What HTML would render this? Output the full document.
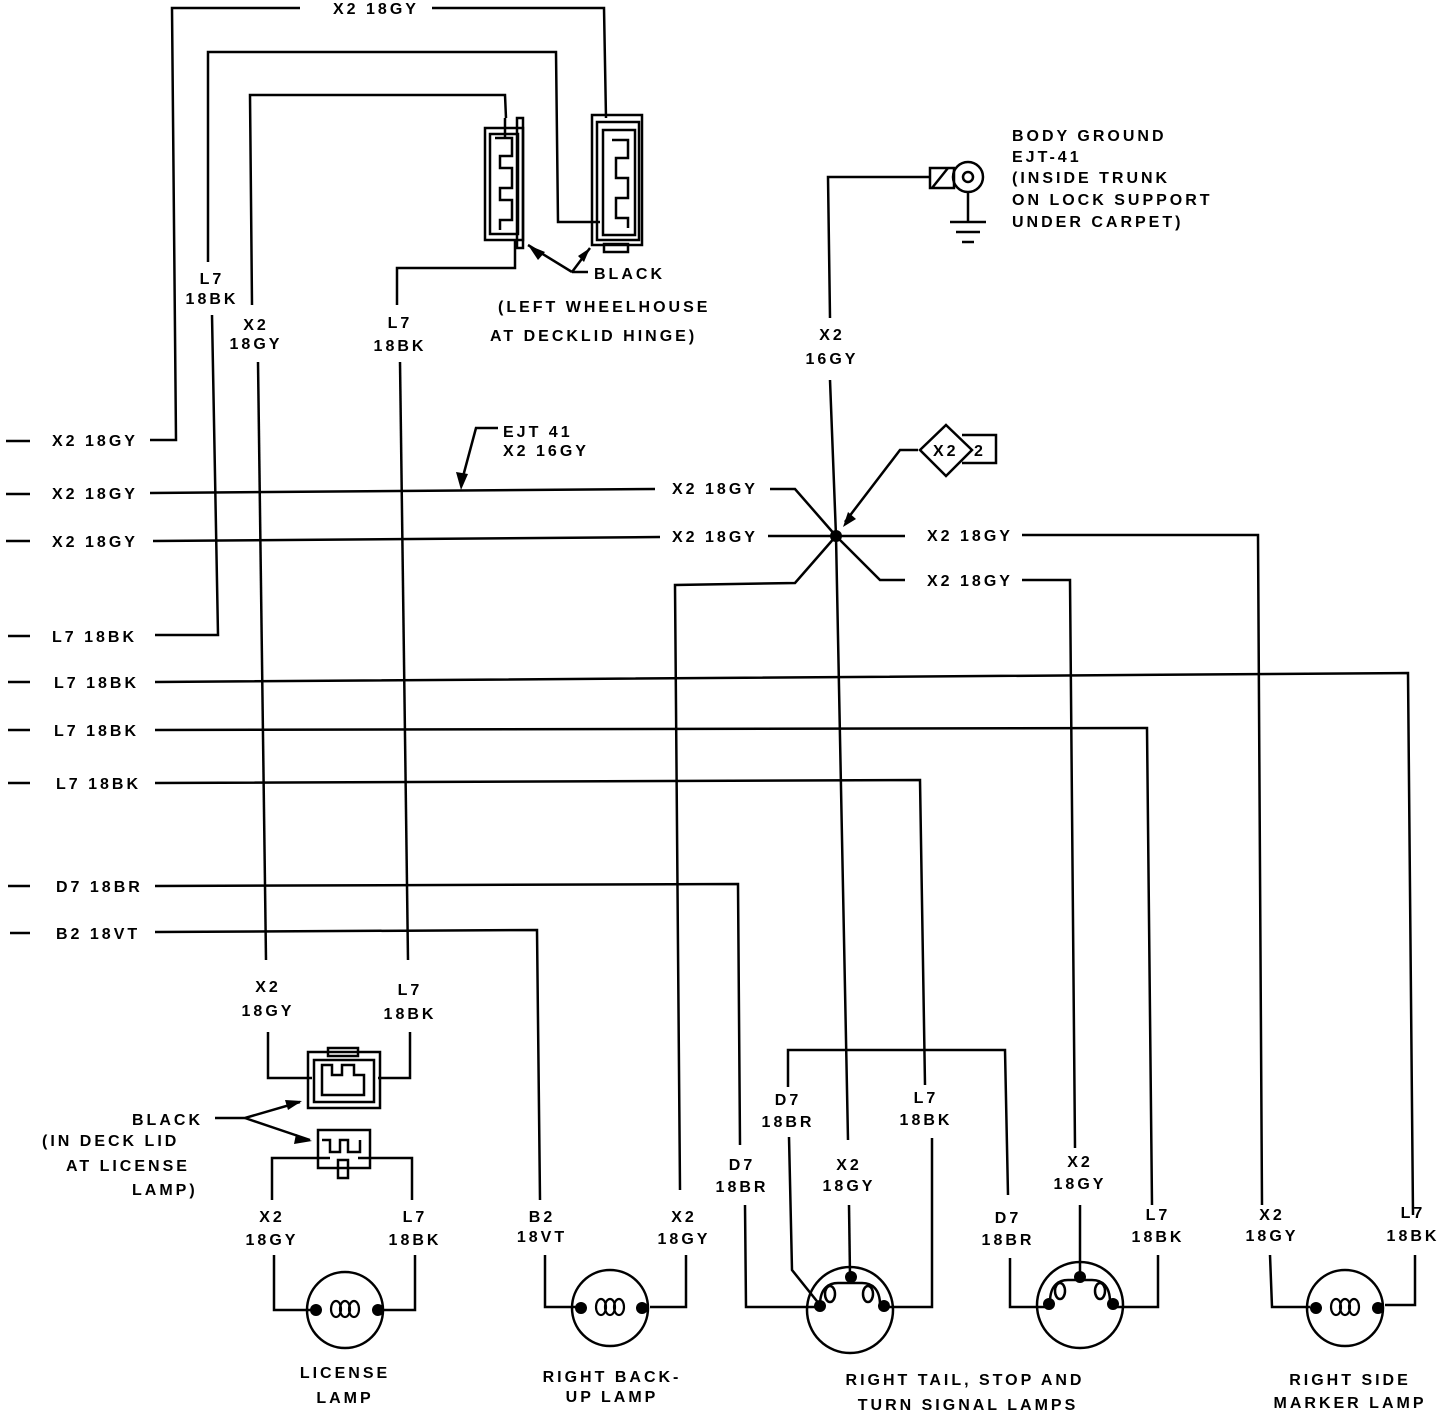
<!DOCTYPE html>
<html><head><meta charset="utf-8"><style>
html,body{margin:0;padding:0;background:#fff;}
svg{display:block}
text{font-family:"Liberation Sans",sans-serif;font-weight:bold;font-size:16px;letter-spacing:3px;fill:#000}
.m{text-anchor:middle}
</style></head><body>
<svg width="1456" height="1414" viewBox="0 0 1456 1414" xmlns="http://www.w3.org/2000/svg">
<g fill="none" stroke="#000" stroke-width="2.5">
<polyline points="150,440 176,440 172,8 300,8"/>
<polyline points="432,8 604,8 606,118"/>
<polyline points="208,262 208,52 556,52 558,222 600,222"/>
<polyline points="212,315 218,635 155,635"/>
<polyline points="252,305 250,95 505,95 506,118"/>
<polyline points="258,362 266,960"/>
<polyline points="268,1032 268,1078 312,1078"/>
<polyline points="515,240 515,268 397,268 397,305"/>
<polyline points="400,362 408,960"/>
<polyline points="410,1032 410,1078 378,1078"/>
<line x1="6" y1="441" x2="30" y2="441"/><line x1="6" y1="494" x2="30" y2="494"/><line x1="6" y1="541" x2="30" y2="541"/>
<line x1="8" y1="636" x2="30" y2="636"/><line x1="8" y1="682" x2="30" y2="682"/><line x1="8" y1="730" x2="30" y2="730"/>
<line x1="8" y1="783" x2="30" y2="783"/><line x1="8" y1="886" x2="30" y2="886"/><line x1="10" y1="933" x2="30" y2="933"/>
<line x1="150" y1="493" x2="655" y2="489"/>
<polyline points="770,489 795,489 836,536"/>
<line x1="153" y1="541" x2="660" y2="537"/>
<line x1="768" y1="536" x2="836" y2="536"/>
<polyline points="155,682 1408,673 1413,1215"/>
<polyline points="155,730 1147,728 1152,1205"/>
<polyline points="155,783 920,780 925,1085"/>
<polyline points="155,886 738,884 740,1145"/>
<polyline points="155,932 537,930 540,1200"/>
<polyline points="930,177 828,177 830,318"/>
<polyline points="830,380 836,536 848,1140"/>
<polyline points="849,1205 850,1275"/>
<line x1="836" y1="536" x2="905" y2="536"/>
<polyline points="1022,535 1258,535 1262,1205"/>
<polyline points="1270,1255 1272,1307 1310,1307"/>
<polyline points="836,536 880,580 905,580"/>
<polyline points="1022,580 1070,580 1075,1148"/>
<polyline points="1080,1205 1080,1275"/>
<polyline points="836,536 795,583 675,585 680,1190"/>
<polyline points="686,1255 686,1307 650,1307"/>
<polyline points="918,450 900,450 845,522"/>
<polygon points="946,425 972,450 946,476 920,450"/>
<polyline points="962,435 996,435 996,463 962,463"/>
<polyline points="498,428 476,428 461,484"/>
<polyline points="788,1087 788,1050 1005,1050 1008,1195"/>
<polyline points="789,1137 792,1270 820,1305"/>
<polyline points="932,1138 932,1307 885,1307"/>
<polyline points="745,1205 746,1307 815,1307"/>
<polyline points="1010,1258 1010,1307 1045,1307"/>
<polyline points="1158,1255 1158,1307 1115,1307"/>
<polyline points="545,1255 545,1307 580,1307"/>
<polyline points="272,1200 272,1158 330,1158"/>
<polyline points="412,1200 412,1158 358,1158"/>
<polyline points="274,1255 274,1310 312,1310"/>
<polyline points="415,1255 415,1310 380,1310"/>
<polyline points="1415,1255 1415,1305 1385,1305"/>
<circle cx="345" cy="1310" r="38"/>
<circle cx="610" cy="1308" r="38"/>
<circle cx="850" cy="1310" r="43"/>
<circle cx="1080" cy="1305" r="43"/>
<circle cx="1345" cy="1308" r="38"/>
<g stroke-width="2.2">
<ellipse cx="336" cy="1309" rx="5" ry="8"/><ellipse cx="345" cy="1309" rx="5" ry="8"/><ellipse cx="354" cy="1309" rx="5" ry="8"/>
<ellipse cx="601" cy="1307" rx="5" ry="8"/><ellipse cx="610" cy="1307" rx="5" ry="8"/><ellipse cx="619" cy="1307" rx="5" ry="8"/>
<ellipse cx="1336" cy="1307" rx="5" ry="8"/><ellipse cx="1345" cy="1307" rx="5" ry="8"/><ellipse cx="1354" cy="1307" rx="5" ry="8"/>
</g>
<path d="M820,1305 c0,-18 10,-22 18,-22 l12,0 l12,0 c10,0 18,6 18,22"/>
<ellipse cx="830" cy="1294" rx="5" ry="8"/><ellipse cx="868" cy="1294" rx="5" ry="8"/>
<path d="M1050,1302 c0,-18 10,-22 18,-22 l12,0 l12,0 c10,0 18,6 18,22"/>
<ellipse cx="1060" cy="1291" rx="5" ry="8"/><ellipse cx="1100" cy="1291" rx="5" ry="8"/>
<rect x="485" y="128" width="38" height="112"/>
<rect x="490" y="134" width="28" height="100"/>
<path d="M505,118 l0,20 m-10,0 h17 v18 h-12 v12 h12 v20 h-12 v12 h12 v20 h-12 v10"/>
<rect x="517" y="118" width="6" height="130"/>
<rect x="592" y="115" width="50" height="130"/>
<rect x="597" y="122" width="42" height="118"/>
<rect x="603" y="130" width="32" height="105"/>
<path d="M612,140 h16 v18 h-12 v20 h12 v20 h-12 v20 h12 v10"/>
<rect x="604" y="244" width="24" height="8"/>
<polyline points="588,272 572,272"/>
<line x1="572" y1="272" x2="528" y2="245"/>
<line x1="572" y1="272" x2="590" y2="248"/>
<rect x="308" y="1052" width="72" height="56"/>
<rect x="314" y="1060" width="60" height="42"/>
<rect x="328" y="1048" width="30" height="8"/>
<path d="M322,1065 h10 v10 h10 v-10 h12 v10 h10 v20 h-42 z"/>
<rect x="318" y="1130" width="52" height="38"/>
<path d="M322,1140 h8 v12 h10 v-12 h8 v12 h12 v-12"/>
<rect x="338" y="1160" width="10" height="18"/>
<polyline points="215,1118 245,1118 300,1102"/>
<line x1="245" y1="1118" x2="310" y2="1140"/>
<rect x="930" y="168" width="24" height="20"/>
<line x1="932" y1="188" x2="948" y2="168"/>
<circle cx="968" cy="177" r="15"/>
<circle cx="968" cy="177" r="5"/>
<line x1="968" y1="192" x2="968" y2="222"/>
<line x1="950" y1="222" x2="986" y2="222"/>
<line x1="956" y1="232" x2="980" y2="232"/>
<line x1="962" y1="242" x2="974" y2="242"/>
</g>
<g fill="#000">
<circle cx="836" cy="536" r="6"/>
<polygon points="528,245 545,252 538,260"/>
<polygon points="590,248 578,256 584,262"/>
<polygon points="461,490 456,472 468,474"/>
<polygon points="843,527 848,512 856,519"/>
<polygon points="302,1101 285,1100 288,1110"/>
<polygon points="312,1141 296,1134 294,1144"/>
<circle cx="316" cy="1310" r="6"/><circle cx="378" cy="1310" r="6"/>
<circle cx="581" cy="1308" r="6"/><circle cx="642" cy="1308" r="6"/>
<circle cx="1316" cy="1308" r="6"/><circle cx="1378" cy="1308" r="6"/>
<circle cx="820" cy="1306" r="6"/><circle cx="884" cy="1306" r="6"/><circle cx="851" cy="1277" r="6"/>
<circle cx="1049" cy="1304" r="6"/><circle cx="1113" cy="1304" r="6"/><circle cx="1080" cy="1277" r="6"/>
</g>
<g>
<text x="333" y="14">X2 18GY</text>
<text x="52" y="446">X2 18GY</text>
<text x="52" y="499">X2 18GY</text>
<text x="52" y="547">X2 18GY</text>
<text x="52" y="642">L7 18BK</text>
<text x="54" y="688">L7 18BK</text>
<text x="54" y="736">L7 18BK</text>
<text x="56" y="789">L7 18BK</text>
<text x="56" y="892">D7 18BR</text>
<text x="56" y="939">B2 18VT</text>
<text x="672" y="494">X2 18GY</text>
<text x="672" y="542">X2 18GY</text>
<text x="927" y="541">X2 18GY</text>
<text x="927" y="586">X2 18GY</text>
<text x="503" y="437">EJT 41</text>
<text x="503" y="456">X2 16GY</text>
<text x="933" y="456">X2</text>
<text x="974" y="456">2</text>
<text x="1012" y="141">BODY GROUND</text>
<text x="1012" y="162">EJT-41</text>
<text x="1012" y="183">(INSIDE TRUNK</text>
<text x="1012" y="205">ON LOCK SUPPORT</text>
<text x="1012" y="227">UNDER CARPET)</text>
<text x="594" y="279">BLACK</text>
<text x="498" y="312">(LEFT WHEELHOUSE</text>
<text x="490" y="341">AT DECKLID HINGE)</text>
<text class="m" x="212" y="284">L7</text><text class="m" x="212" y="304">18BK</text>
<text class="m" x="256" y="330">X2</text><text class="m" x="256" y="349">18GY</text>
<text class="m" x="400" y="328">L7</text><text class="m" x="400" y="351">18BK</text>
<text class="m" x="832" y="340">X2</text><text class="m" x="832" y="364">16GY</text>
<text class="m" x="268" y="992">X2</text><text class="m" x="268" y="1016">18GY</text>
<text class="m" x="410" y="995">L7</text><text class="m" x="410" y="1019">18BK</text>
<text x="132" y="1125">BLACK</text>
<text x="42" y="1146">(IN DECK LID</text>
<text x="66" y="1171">AT LICENSE</text>
<text x="132" y="1195">LAMP)</text>
<text class="m" x="272" y="1222">X2</text><text class="m" x="272" y="1245">18GY</text>
<text class="m" x="415" y="1222">L7</text><text class="m" x="415" y="1245">18BK</text>
<text class="m" x="542" y="1222">B2</text><text class="m" x="542" y="1242">18VT</text>
<text class="m" x="684" y="1222">X2</text><text class="m" x="684" y="1244">18GY</text>
<text class="m" x="742" y="1170">D7</text><text class="m" x="742" y="1192">18BR</text>
<text class="m" x="788" y="1105">D7</text><text class="m" x="788" y="1127">18BR</text>
<text class="m" x="849" y="1170">X2</text><text class="m" x="849" y="1191">18GY</text>
<text class="m" x="926" y="1103">L7</text><text class="m" x="926" y="1125">18BK</text>
<text class="m" x="1008" y="1223">D7</text><text class="m" x="1008" y="1245">18BR</text>
<text class="m" x="1080" y="1167">X2</text><text class="m" x="1080" y="1189">18GY</text>
<text class="m" x="1158" y="1220">L7</text><text class="m" x="1158" y="1242">18BK</text>
<text class="m" x="1272" y="1220">X2</text><text class="m" x="1272" y="1241">18GY</text>
<text class="m" x="1413" y="1218">L7</text><text class="m" x="1413" y="1241">18BK</text>
<text class="m" x="345" y="1378">LICENSE</text><text class="m" x="345" y="1403">LAMP</text>
<text class="m" x="612" y="1382">RIGHT BACK-</text><text class="m" x="612" y="1402">UP LAMP</text>
<text class="m" x="965" y="1385">RIGHT TAIL, STOP AND</text><text class="m" x="968" y="1410">TURN SIGNAL LAMPS</text>
<text class="m" x="1350" y="1385">RIGHT SIDE</text><text class="m" x="1350" y="1408">MARKER LAMP</text>
</g>
</svg>
</body></html>
